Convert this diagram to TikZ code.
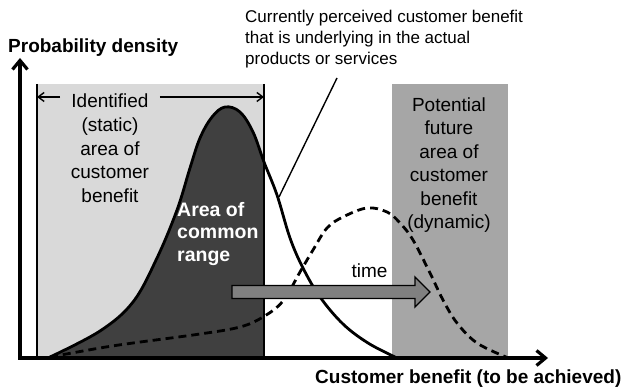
\documentclass[tikz,border=0pt]{standalone}
\usepackage{fontspec}
\setmainfont{Liberation Sans}
\usepackage{tikz}
\usetikzlibrary{arrows.meta,positioning}
\definecolor{areagray}{RGB}{217,217,217}
\definecolor{futuregray}{RGB}{166,166,166}
\definecolor{commongray}{RGB}{64,64,64}
\definecolor{timegray}{RGB}{128,128,128}
\tikzset{
  axis/.style={line width=3.2pt,
    {Straight Barb[length=9pt,width=15pt]}-{Straight Barb[length=9pt,width=15pt]}},
  dens/.style={line width=2.8pt},
  densfut/.style={line width=2.8pt,dash pattern=on 8pt off 5pt},
  cota/.style={line width=1.4pt,-{Straight Barb[length=6pt,width=9pt]}},
  txt/.style={inner sep=0pt,font=\fontsize{19pt}{23.5pt}\selectfont},
  txtbold/.style={inner sep=0pt,font=\fontsize{19pt}{23pt}\selectfont\bfseries},
  timearrow/.style={fill=timegray,draw=black,line width=1.3pt}
}

\begin{document}
\begin{tikzpicture}[x=1pt,y=-1pt]
  \useasboundingbox (0,0) rectangle (629,387);
  % regions of customer benefit
  \fill[areagray] (37,84) rectangle (264,358);
  \fill[futuregray] (392,84) rectangle (508,358);
  \begin{scope}
    \clip (37,84) rectangle (264,358);
    \fill[commongray] plot[smooth,tension=0.6] coordinates {(50,357) (100,331)
      (133,302) (157,258) (177,210) (190,168) (200,138) (212,117) (225,107)
      (240,112) (253,132) (264,162) (277,195)} -- (277,358) -- cycle;
  \end{scope}
  \draw[line width=1.2pt] (37,84) -- (37,358);
  \draw[line width=2.6pt] (264,84) -- (264,358);
  % densities
  \draw[dens] plot[smooth,tension=0.6] coordinates {(50,357) (100,331)
    (133,302) (157,258) (177,210) (190,168) (200,138) (212,117) (225,107)
    (240,112) (253,132) (264,162) (277,195) (290,238) (303,268) (320,297)
    (343,324) (368,343) (395,357)};
  \draw[densfut] plot[smooth,tension=0.6] coordinates {(50,357) (100,348)
    (133,343) (200,334) (240,327) (263,317) (283,301) (300,272) (313,250)
    (327,228) (343,217) (367,208) (387,212) (400,223) (413,240) (430,273)
    (443,300) (457,323) (477,343) (506,357)};
  % axes
  \coordinate (origin) at (20,358);
  \coordinate (ytip) at (20,58);
  \coordinate (xtip) at (548,358);
  \draw[axis] (ytip) -- (origin) -- (xtip);
  % shift over time
  \draw[timearrow] (232,285.5) -- (415,285.5) -- (415,277) -- (430,292)
    -- (415,307) -- (415,298.5) -- (232,298.5) -- cycle;
  \node[txt,anchor=base] (timelbl) at (369.5,278) {time};
  % labels
  \node[txtbold,anchor=base west] (ylbl) at (8,53) {Probability density};
  \node[txtbold,anchor=base west] (xlbl) at (315,383) {Customer benefit (to be achieved)};
  \node[txt,anchor=north west,align=left,font=\fontsize{17pt}{21pt}\selectfont]
    (perceived) at (245,9.6) {Currently perceived customer benefit\\
    that is underlying in the actual\\products or services};
  \coordinate (calloutstart) at (337,78);
  \coordinate (calloutend) at (279,197);
  \draw[line width=1.4pt] (calloutstart) -- (calloutend);
  \node[txt,anchor=base,inner xsep=11pt] (ident) at (110,108) {Identified};
  \coordinate (leftbar) at (37,97);
  \coordinate (rightbar) at (264,97);
  \draw[cota] (ident.west |- leftbar) -- (leftbar);
  \draw[cota] (ident.east |- rightbar) -- (rightbar);
  \node[txt,anchor=north,align=center] (staticlbl) at (110,117.6)
    {(static)\\area of\\customer\\benefit};
  \node[txt,anchor=north,align=center] (futurelbl) at (449,97.1)
    {Potential\\future\\area of\\customer\\benefit\\(dynamic)};
  \node[txt,anchor=north west,align=left,text=white,
    font=\fontsize{19.5pt}{22.5pt}\selectfont\bfseries]
    (commonlbl) at (177,201.8) {Area of\\common\\range};
\end{tikzpicture}
\end{document}
